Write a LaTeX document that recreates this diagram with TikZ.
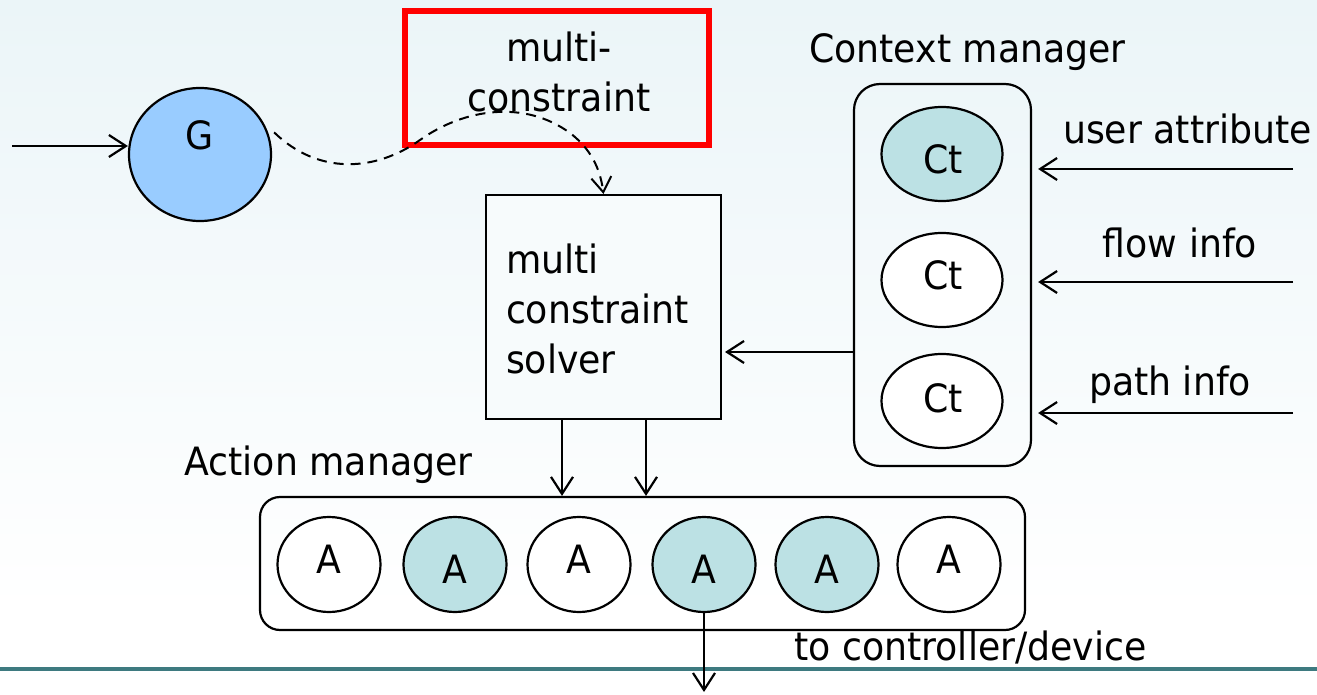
\documentclass[tikz,border=0pt]{standalone}
\usepackage{fontspec}
\setmainfont[FakeStretch=0.93]{DejaVu Sans}
\usetikzlibrary{shapes.geometric,arrows.meta}
\definecolor{bgtop}{RGB}{235,245,248}
\definecolor{gblue}{RGB}{153,204,255}
\definecolor{lteal}{RGB}{188,225,228}
\definecolor{tealline}{RGB}{62,122,128}
\begin{document}
\begin{tikzpicture}[x=1pt,y=-1pt,
  txt/.style={font=\fontsize{39}{50}\selectfont, inner sep=0pt, outer sep=0pt},
  ell/.style={ellipse, draw=black, line width=2.2pt, inner sep=0pt, fill=white},
  aell/.style={ell, minimum width=103pt, minimum height=95pt},
  cell/.style={ell, minimum width=121pt, minimum height=94pt},
  hot/.style={fill=lteal},
  arr/.style={line width=2.2pt, -{Straight Barb[length=17pt,width=22pt,line width=2.2pt]}},
  rbox/.style={draw=black, line width=2.2pt, rounded corners=24pt, inner sep=0pt, fill=none},
  sbox/.style={draw=black, line width=2pt, inner sep=0pt, fill=white!60!bgtop},
]
\useasboundingbox (0,0) rectangle (1317,695);
\shade[top color=bgtop, bottom color=white] (0,0) rectangle (1317,610);
\fill[white] (0,610) rectangle (1317,695);
\draw[tealline, line width=4pt] (0,669) -- (1317,669);

% G
\node[ell, fill=gblue, minimum width=142pt, minimum height=133pt] (G) at (200,154.5) {};
\node[txt, anchor=base] (Gt) at (200,150) {G};
\coordinate (gin) at (12,146);
\draw[arr] (gin) -- (gin -| G.west);

% red box
\node[draw=red, line width=6pt, minimum width=304pt, minimum height=134pt, inner sep=0pt] (mc) at (557,78) {};
\node[txt, anchor=base, align=center] (mct) at (559,112) {multi-\\constraint};

% solver
\node[sbox, minimum width=235pt, minimum height=224pt] (solver) at (603.5,307) {};
\node[txt, anchor=base west, align=left] (solvt) at (506,373) {multi\\constraint\\solver};

% dashed curve
\draw[line width=2pt, dash pattern=on 10pt off 7pt, -{Straight Barb[length=15pt,width=20pt,line width=2pt]}]
  ([xshift=6pt]G.18) .. controls (318,175) and (375,172) .. (420,140)
  .. controls (465,108) and (525,100) .. (570,133)
  .. controls (595,152) and (601,175) .. (solver.north);

% context manager
\node[txt, anchor=base] (ctxl) at (967.5,63) {Context manager};
\node[rbox, minimum width=177pt, minimum height=382pt, rounded corners=26pt] (ctx) at (942.5,275) {};
\node[cell, hot] (c1) at (942,154) {};
\node[cell] (c2) at (942,280) {};
\node[cell] (c3) at (942,401) {};
\node[txt, anchor=base] (c1t) at (943,174) {Ct};
\node[txt, anchor=base] (c2t) at (943,289) {Ct};
\node[txt, anchor=base] (c3t) at (943,412) {Ct};

\coordinate (ua) at (1293,169);
\coordinate (fa) at (1293,282);
\coordinate (pa) at (1293,413);
\draw[arr, shorten >=6pt] (ua) -- (ua -| ctx.east);
\draw[arr, shorten >=6pt] (fa) -- (fa -| ctx.east);
\draw[arr, shorten >=6pt] (pa) -- (pa -| ctx.east);
\node[txt, anchor=base] (ual) at (1187.5,144) {user attribute};
\node[txt, anchor=base] (fal) at (1180,258) {flow info};
\node[txt, anchor=base] (pal) at (1170,395) {path info};

\draw[arr, shorten >=3pt] ([yshift=-77pt]ctx.west) -- ([yshift=-77pt]ctx.west -| solver.east);

% action manager
\node[txt, anchor=base] (actl) at (328.5,475) {Action manager};
\node[rbox, minimum width=765pt, minimum height=133pt, rounded corners=20pt] (act) at (642.5,563.5) {};
\node[aell] (a1) at (329,564.5) {};
\node[aell, hot] (a2) at (455,564.5) {};
\node[aell] (a3) at (579,564.5) {};
\node[aell, hot] (a4) at (704,564.5) {};
\node[aell, hot] (a5) at (827,564.5) {};
\node[aell] (a6) at (949,564.5) {};
\node[txt, anchor=base] (a1t) at (329,573) {A};
\node[txt, anchor=base] (a2t) at (455,583) {A};
\node[txt, anchor=base] (a3t) at (579,573) {A};
\node[txt, anchor=base] (a4t) at (704,583) {A};
\node[txt, anchor=base] (a5t) at (827,583) {A};
\node[txt, anchor=base] (a6t) at (949,573) {A};

\draw[arr] ([xshift=-41.5pt]solver.south) -- ([xshift=-41.5pt]solver.south |- act.north);
\draw[arr] ([xshift=42.5pt]solver.south) -- ([xshift=42.5pt]solver.south |- act.north);

\coordinate (out) at (704,692);
\draw[arr] (a4.south) -- (out);
\node[txt, anchor=base] (outl) at (970.5,660) {to controller/device};
\end{tikzpicture}
\end{document}
